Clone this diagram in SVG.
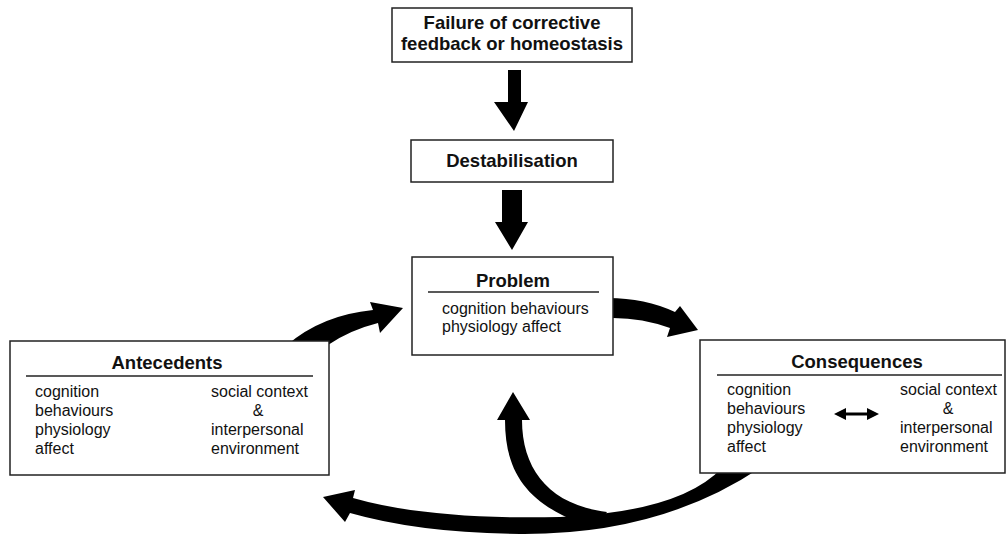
<svg xmlns="http://www.w3.org/2000/svg" width="1007" height="535" viewBox="0 0 1007 535">
<style>
.box{fill:#fff;stroke:#222;stroke-width:1.5}
.rule{stroke:#222;stroke-width:1.5}
.t{font-family:"Liberation Sans",Arial,sans-serif;font-weight:bold;font-size:18.5px;fill:#111}
.b{font-family:"Liberation Sans",Arial,sans-serif;font-size:16px;fill:#111}
.arr{fill:#000;stroke:none}
</style>
<g id="connectors">
  <!-- Failure -> Destabilisation -->
  <polygon class="arr" points="508,70 521,70 521,102 528,102 514,131 494,102 508,102"/>
  <!-- Destabilisation -> Problem -->
  <polygon class="arr" points="502,190 522,190 522,222 528,222 512,250 495,222 502,222"/>
  <!-- Antecedents -> Problem -->
  <path class="arr" d="M287,345 Q322,315 373,310 L370,302 L403,308 L380,333 L378,323 Q350,330 328,345 Z"/>
  <!-- Problem -> Consequences -->
  <path class="arr" d="M608,298 Q645,298 675,312 L680,306 L698,330 L667,337 L670,328 Q640,317 608,318 Z"/>
  <!-- Consequences -> Antecedents (bottom loop) -->
  <path class="arr" d="M722,468 Q680,512 560,517 Q430,520 353,498 L355,490 L323,497 L345,522 L350,513 Q420,533 520,534 Q660,535 760,468 Z"/>
  <!-- branch up to Problem -->
  <path class="arr" d="M505,420 L497,420 L513,392 L530,420 L522,420 C522,470 550,505 607,512 L600,522 L575,521 C525,500 505,470 505,420 Z"/>
</g>
<g id="failure">
  <rect class="box" x="392" y="8" width="240" height="54"/>
  <text class="t" x="512" y="29" text-anchor="middle">Failure of corrective</text>
  <text class="t" x="512" y="50" text-anchor="middle">feedback or homeostasis</text>
</g>
<g id="destabilisation">
  <rect class="box" x="411" y="140" width="202" height="42"/>
  <text class="t" x="512" y="167" text-anchor="middle">Destabilisation</text>
</g>
<g id="problem">
  <rect class="box" x="412" y="257" width="201" height="98"/>
  <text class="t" x="513" y="287" text-anchor="middle">Problem</text>
  <line class="rule" x1="428" y1="292" x2="599" y2="292"/>
  <text class="b" x="442" y="314">cognition behaviours</text>
  <text class="b" x="442" y="332">physiology affect</text>
</g>
<g id="antecedents">
  <rect class="box" x="10" y="341" width="319" height="134"/>
  <text class="t" x="167" y="369" text-anchor="middle">Antecedents</text>
  <line class="rule" x1="26" y1="376" x2="313" y2="376"/>
  <text class="b" x="35" y="397">cognition</text>
  <text class="b" x="35" y="416">behaviours</text>
  <text class="b" x="35" y="435">physiology</text>
  <text class="b" x="35" y="454">affect</text>
  <text class="b" x="211" y="397">social context</text>
  <text class="b" x="258" y="416" text-anchor="middle">&amp;</text>
  <text class="b" x="211" y="435">interpersonal</text>
  <text class="b" x="211" y="454">environment</text>
</g>
<g id="consequences">
  <rect class="box" x="700" y="340" width="305" height="133"/>
  <text class="t" x="857" y="368" text-anchor="middle">Consequences</text>
  <line class="rule" x1="717" y1="375" x2="1002" y2="375"/>
  <text class="b" x="727" y="395">cognition</text>
  <text class="b" x="727" y="414">behaviours</text>
  <text class="b" x="727" y="433">physiology</text>
  <text class="b" x="727" y="452">affect</text>
  <text class="b" x="900" y="395">social context</text>
  <text class="b" x="948" y="414" text-anchor="middle">&amp;</text>
  <text class="b" x="900" y="433">interpersonal</text>
  <text class="b" x="900" y="452">environment</text>
</g>
<g id="connector-cons-internal">
  <line x1="843" y1="414" x2="870" y2="414" stroke="#000" stroke-width="3"/>
  <polygon class="arr" points="834,414 846,408 846,420"/>
  <polygon class="arr" points="879,414 867,408 867,420"/>
</g>
</svg>
